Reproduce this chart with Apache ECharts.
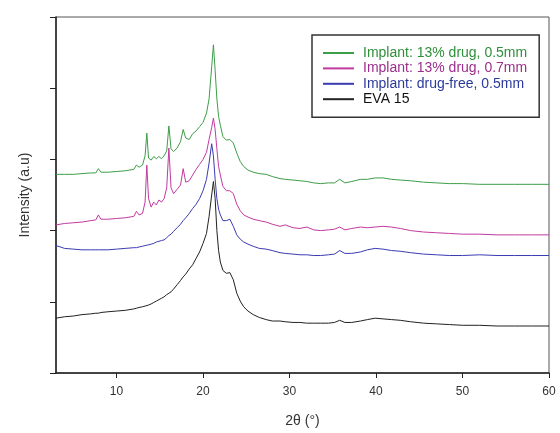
<!DOCTYPE html>
<html>
<head>
<meta charset="utf-8">
<script src="https://cdn.jsdelivr.net/npm/echarts@6/dist/echarts.min.js"></script>
<style>html,body{margin:0;padding:0;background:#fff}#c{width:560px;height:433px}</style>
</head>
<body>
<div id="c"></div>
<script>
const twoTheta = [
  3,4,5,6,7,7.6,7.9,8.2,9,10,
  11,12,12.3,12.6,13.0,13.3,13.5,13.7,14.0,14.3,
  14.6,14.9,15.2,15.5,15.8,16.05,16.3,16.6,17.0,17.4,
  17.7,18.0,18.4,18.8,19.2,19.6,20.0,20.4,20.7,21.0,
  21.2,21.4,21.6,21.8,22.0,22.3,22.7,23.1,23.5,23.9,
  24.3,24.7,25.2,25.8,26.5,27.3,28.0,28.9,29.5,30.4,
  31.2,32.0,32.8,33.6,34.5,35.2,35.8,36.4,37.2,38.2,
  39.0,39.9,40.8,41.8,42.8,44.0,45.5,47.0,48.5,50,
  52,54,56,58,60
];
const drug05 = [
  2.79,2.79,2.79,2.80,2.81,2.81,2.87,2.82,2.82,2.83,
  2.84,2.86,2.92,2.89,2.92,3.05,3.37,3.02,2.99,3.04,
  3.01,3.04,3.01,3.05,3.12,3.47,3.15,3.11,3.16,3.25,
  3.42,3.30,3.28,3.36,3.40,3.46,3.52,3.65,3.85,4.30,
  4.61,4.25,3.85,3.60,3.48,3.32,3.27,3.28,3.23,3.09,
  2.97,2.90,2.85,2.82,2.80,2.79,2.76,2.73,2.72,2.71,
  2.70,2.69,2.67,2.66,2.67,2.67,2.72,2.67,2.69,2.72,
  2.72,2.74,2.74,2.72,2.71,2.70,2.68,2.67,2.66,2.66,
  2.65,2.65,2.65,2.65,2.65
];
const drug07 = [
  2.08,2.10,2.11,2.12,2.14,2.15,2.22,2.16,2.16,2.17,
  2.18,2.20,2.27,2.22,2.24,2.40,2.92,2.45,2.33,2.40,
  2.36,2.43,2.40,2.45,2.60,3.16,2.60,2.52,2.58,2.64,
  2.87,2.68,2.70,2.78,2.86,2.93,3.00,3.10,3.28,3.45,
  3.58,3.42,3.15,2.90,2.78,2.62,2.56,2.56,2.52,2.37,
  2.28,2.22,2.19,2.16,2.14,2.12,2.09,2.06,2.08,2.04,
  2.03,2.05,2.01,2.00,2.01,2.02,2.05,2.01,2.03,2.05,
  2.04,2.05,2.06,2.05,2.03,2.00,1.98,1.97,1.96,1.95,
  1.95,1.94,1.94,1.94,1.94
];
const drugFree = [
  1.79,1.75,1.74,1.73,1.73,1.73,1.73,1.73,1.73,1.74,
  1.75,1.76,1.76,1.77,1.78,1.79,1.79,1.80,1.81,1.82,
  1.84,1.85,1.86,1.87,1.90,1.93,1.95,1.99,2.04,2.09,
  2.14,2.18,2.24,2.31,2.37,2.45,2.56,2.72,2.95,3.22,
  3.05,2.72,2.45,2.30,2.22,2.14,2.14,2.16,2.06,1.94,
  1.88,1.84,1.81,1.78,1.75,1.74,1.72,1.69,1.68,1.67,
  1.66,1.66,1.65,1.65,1.66,1.67,1.72,1.68,1.68,1.70,
  1.73,1.75,1.74,1.72,1.71,1.69,1.67,1.66,1.65,1.65,
  1.66,1.65,1.65,1.65,1.65
];
const eva15 = [
  0.77,0.79,0.80,0.82,0.83,0.84,0.84,0.85,0.86,0.87,
  0.88,0.90,0.91,0.92,0.93,0.94,0.95,0.955,0.97,0.99,
  1.01,1.03,1.05,1.07,1.10,1.12,1.14,1.18,1.24,1.30,
  1.35,1.39,1.46,1.52,1.61,1.70,1.82,1.96,2.20,2.50,
  2.69,2.45,2.00,1.72,1.56,1.44,1.40,1.41,1.31,1.12,
  1.01,0.93,0.87,0.82,0.78,0.75,0.73,0.73,0.72,0.71,
  0.71,0.70,0.70,0.70,0.70,0.71,0.74,0.71,0.71,0.73,
  0.75,0.77,0.76,0.75,0.74,0.72,0.70,0.69,0.68,0.67,
  0.67,0.66,0.66,0.66,0.66
];
const xTicks = [10,20,30,40,50,60];
const seriesNames = ['Implant: 13% drug, 0.5mm','Implant: 13% drug, 0.7mm','Implant: drug-free, 0.5mm','EVA 15'];

const lineColors = ['#3d9e48','#c23aa0','#3b3bb2','#222222'];
const textColors = ['#2f8f3a','#9c2f8c','#2b3a9a','#111111'];
const seriesValues = [drug05, drug07, drugFree, eva15];

function zip(ys){ return twoTheta.map((x,i)=>[x, ys[i]]); }

const chart = echarts.init(document.getElementById('c'), null, {renderer:'canvas'});
chart.setOption({
  animation:false,
  backgroundColor:'#fff',
  grid:{left:56, right:11, top:17, bottom:60, show:true, borderColor:'#555', borderWidth:1},
  xAxis:{
    type:'value', min:3, max:60,
    name:'2θ (°)', nameLocation:'middle', nameGap:41,
    nameTextStyle:{fontSize:14, color:'#333', fontFamily:'Liberation Sans'},
    axisLine:{show:true, onZero:false, lineStyle:{color:'#222', width:1.5}},
    axisTick:{show:true, length:5, customValues:xTicks, lineStyle:{color:'#222'}},
    axisLabel:{customValues:xTicks, margin:13, fontSize:12, color:'#333', fontFamily:'Liberation Sans'},
    splitLine:{show:false}
  },
  yAxis:{
    type:'value', min:0, max:5, interval:1,
    name:'Intensity (a.u)', nameLocation:'middle', nameGap:24, nameRotate:90,
    nameTextStyle:{fontSize:14, color:'#333', fontFamily:'Liberation Sans'},
    axisLine:{show:true, lineStyle:{color:'#222', width:1.5}},
    axisTick:{show:true, length:6, lineStyle:{color:'#222'}},
    axisLabel:{show:false},
    splitLine:{show:false}
  },
  legend:{
    orient:'vertical', left:312, top:35,
    padding:[11,12,11,10],
    itemWidth:31, itemHeight:14, itemGap:1.4,
    borderColor:'#333', borderWidth:1.5, backgroundColor:'#fff',
    itemStyle:{opacity:0},
    textStyle:{fontSize:14, fontFamily:'Liberation Sans', padding:[0,0,0,4]},
    data: seriesNames.map((n,i)=>({name:n, textStyle:{color:textColors[i]}}))
  },
  series: seriesNames.map((n,i)=>({
    name:n, type:'line', data: zip(seriesValues[i]),
    symbol:'none', showSymbol:false, smooth:false,
    lineStyle:{color:lineColors[i], width:1},
    itemStyle:{color:lineColors[i]},
    z: 2 + (3-i)
  }))
});
</script>
</body>
</html>
